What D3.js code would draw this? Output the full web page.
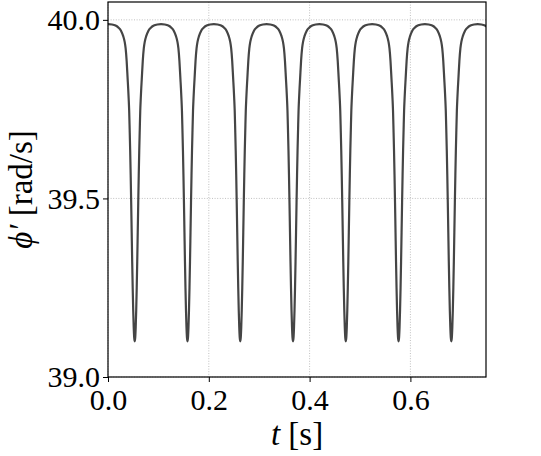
<!DOCTYPE html>
<html>
<head>
<meta charset="utf-8">
<script src="https://cdn.jsdelivr.net/npm/d3@7/dist/d3.min.js"></script>
<style>
  html, body { margin: 0; padding: 0; background: #fff; }
  svg { display: block; }
</style>
</head>
<body>
<script>
// ---- data ----
// times (s) of the minima of phi'
const dipTimes = [-0.0517, 0.0530, 0.1577, 0.2624, 0.3671, 0.4718, 0.5765, 0.6812, 0.7859];
// shape of one dip: offset from the minimum (s) and phi' value (rad/s)
const profileOffset = [0, 0.001, 0.002, 0.003, 0.004, 0.005, 0.006, 0.007, 0.008, 0.009, 0.010, 0.011, 0.012, 0.013, 0.014, 0.016, 0.018, 0.020, 0.023, 0.027, 0.032, 0.038, 0.045, 0.0523];
const profileValue  = [39.100, 39.110, 39.140, 39.188, 39.250, 39.323, 39.405, 39.488, 39.565, 39.634, 39.692, 39.746, 39.780, 39.809, 39.834, 39.885, 39.920, 39.939, 39.955, 39.969, 39.978, 39.984, 39.987, 39.988];
const xTicks = [0.0, 0.2, 0.4, 0.6];
const xTickLabels = ["0.0", "0.2", "0.4", "0.6"];
const yTicks = [39.0, 39.5, 40.0];
const yTickLabels = ["39.0", "39.5", "40.0"];
const xDomain = [0, 0.75];
const yDomain = [39.0, 40.05];

const FONT = '"Liberation Serif"';

// ---- build series from the dip profile ----
let pts = [];
dipTimes.forEach(c => {
  for (let i = profileOffset.length - 1; i > 0; i--) pts.push([c - profileOffset[i], profileValue[i]]);
  pts.push([c, profileValue[0]]);
  for (let i = 1; i < profileOffset.length; i++) pts.push([c + profileOffset[i], profileValue[i]]);
});
pts.sort((a, b) => a[0] - b[0]);
const series = [];
pts.forEach(p => {
  if (!series.length || p[0] - series[series.length - 1][0] > 0.0005) series.push(p);
});

// ---- layout ----
const W = 541, H = 456;
const m = { left: 108, right: 55, top: 2, bottom: 79 };
const iw = W - m.left - m.right, ih = H - m.top - m.bottom;

const svg = d3.select("body").append("svg").attr("width", W).attr("height", H);
const g = svg.append("g").attr("transform", `translate(${m.left},${m.top})`);

const x = d3.scaleLinear().domain(xDomain).range([0, iw]);
const y = d3.scaleLinear().domain(yDomain).range([ih, 0]);

svg.append("defs").append("clipPath").attr("id", "clip")
  .append("rect").attr("width", iw).attr("height", ih);

// grid
const grid = g.append("g");
grid.selectAll(".gx").data(xTicks).enter().append("line")
  .attr("x1", d => x(d)).attr("x2", d => x(d)).attr("y1", 0).attr("y2", ih)
  .attr("stroke", "#b0b0b0").attr("stroke-width", 0.8).attr("stroke-dasharray", "1,1.6");
grid.selectAll(".gy").data(yTicks).enter().append("line")
  .attr("y1", d => y(d)).attr("y2", d => y(d)).attr("x1", 0).attr("x2", iw)
  .attr("stroke", "#b0b0b0").attr("stroke-width", 0.8).attr("stroke-dasharray", "1,1.6");

// line
const line = d3.line().x(d => x(d[0])).y(d => y(d[1])).curve(d3.curveMonotoneX);
g.append("path").datum(series).attr("clip-path", "url(#clip)")
  .attr("d", line).attr("fill", "none").attr("stroke", "#454545").attr("stroke-width", 2.2)
  .attr("stroke-linejoin", "round");

// axes
const xAxis = d3.axisBottom(x).tickValues(xTicks).tickSize(5).tickPadding(6)
  .tickFormat((d, i) => xTickLabels[i]);
const yAxis = d3.axisLeft(y).tickValues(yTicks).tickSize(5).tickPadding(6)
  .tickFormat((d, i) => yTickLabels[i]);

const gx = g.append("g").attr("transform", `translate(0,${ih})`).call(xAxis);
const gy = g.append("g").call(yAxis);
[gx, gy].forEach(a => {
  a.attr("font-family", FONT).attr("font-size", 30);
  a.select(".domain").remove();
  a.selectAll(".tick line").attr("stroke", "#000").attr("stroke-width", 1);
  a.selectAll(".tick text").style("font-family", FONT).style("font-size", "30px").attr("fill", "#000");
});
gx.selectAll(".tick text").attr("dy", null).attr("y", 33);
gy.selectAll(".tick text").attr("dy", "0.33em").attr("x", -8);

// frame
g.append("rect").attr("width", iw).attr("height", ih)
  .attr("fill", "none").attr("stroke", "#000").attr("stroke-width", 1.2);

// axis labels
const xl = svg.append("text").attr("x", m.left + iw / 2).attr("y", 445)
  .attr("text-anchor", "middle").style("font-family", FONT).style("font-size", "33px");
xl.append("tspan").style("font-style", "italic").text("t");
xl.append("tspan").text(" [s]");

const yl = svg.append("text").attr("transform", `translate(32,${m.top + ih / 2}) rotate(-90)`)
  .attr("text-anchor", "middle").style("font-family", FONT).style("font-size", "33px");
yl.append("tspan").style("font-style", "italic").text("ϕ′");
yl.append("tspan").text(" [rad/s]");
</script>
</body>
</html>
